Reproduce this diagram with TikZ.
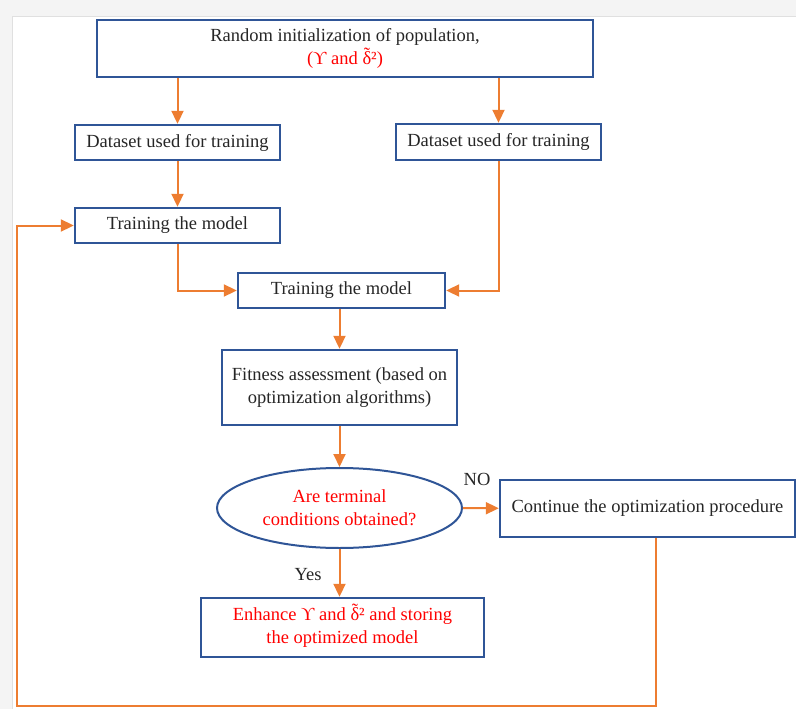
\documentclass[tikz,border=0pt]{standalone}
\usepackage{fontspec}
\setmainfont{Liberation Serif}
\usetikzlibrary{arrows.meta,shapes.geometric}
\definecolor{boxblue}{RGB}{47,85,151}
\definecolor{arrorange}{RGB}{237,125,49}
\definecolor{txtred}{RGB}{255,0,0}
\definecolor{framegray}{RGB}{244,244,244}
\newcommand{\dtil}{\leavevmode\hbox{\ooalign{δ\cr\hidewidth\raise0.2em\hbox{\char"02DC}\hidewidth\cr}}}

\begin{document}
\begin{tikzpicture}[
  x=1pt, y=-1pt,
  font=\fontsize{18.5}{23}\selectfont,
  box/.style={rectangle, draw=boxblue, line width=2.4pt, fill=white, text=black!85, align=center, inner sep=2pt},
  oval/.style={ellipse, draw=boxblue, line width=2pt, fill=white, text=txtred, align=center, inner sep=0pt},
  arr/.style={draw=arrorange, line width=2pt, -{Triangle[length=13pt,width=12pt]}},
  lbl/.style={text=black!85}
]
  \useasboundingbox (0,0) rectangle (796,709);
  \fill[framegray] (0,0) rectangle (796,16);
  \fill[framegray] (0,16) rectangle (12,709);
  \draw[black!12] (12,709) -- (12,16) -- (796,16);

  \node[box, minimum width=496pt, minimum height=57pt] (init) at (345,48.5)
    {Random initialization of population,\\ \textcolor{txtred}{(ϒ and \dtil²)}};
  \node[box, minimum width=205pt, minimum height=35pt] (dsl) at (177.5,142.5) {Dataset used for training};
  \node[box, minimum width=205pt, minimum height=36pt] (dsr) at (498.5,142) {Dataset used for training};
  \node[box, minimum width=205pt, minimum height=35pt] (trl) at (177.5,225.5) {Training the model};
  \node[box, minimum width=207pt, minimum height=35pt] (trc) at (341.5,290.5) {Training the model};
  \node[box, minimum width=235pt, minimum height=75pt] (fit) at (339.5,387.5)
    {Fitness assessment (based on\\ optimization algorithms)};
  \node[oval, minimum width=245pt, minimum height=80pt] (cond) at (339.5,508)
    {Are terminal\\ conditions obtained?};
  \node[box, minimum width=295pt, minimum height=57pt] (cont) at (647.5,508.5)
    {Continue the optimization procedure};
  \node[box, text=txtred, minimum width=283pt, minimum height=59pt] (enh) at (342.5,627.5)
    {Enhance ϒ and \dtil² and storing\\ the optimized model};

  \node[lbl] (no) at (477,479) {NO};
  \node[lbl] (yes) at (308,575) {Yes};

  \coordinate (br) at (656,706);
  \coordinate (bl) at (17,706);

  \draw[arr] (dsl.north |- init.south) -- (dsl.north);
  \draw[arr] (dsr.north |- init.south) -- (dsr.north);
  \draw[arr] (dsl) -- (trl);
  \draw[arr] (trl.south) |- (trc.west);
  \draw[arr] (dsr.south) |- (trc.east);
  \draw[arr] (fit.north |- trc.south) -- (fit.north);
  \draw[arr] (fit) -- (cond);
  \draw[arr] (cond) -- (cont);
  \draw[arr] (cond.south) -- (cond.south |- enh.north);
  \draw[arr] (br |- cont.south) -- (br) -- (bl) |- (trl.west);
\end{tikzpicture}
\end{document}
